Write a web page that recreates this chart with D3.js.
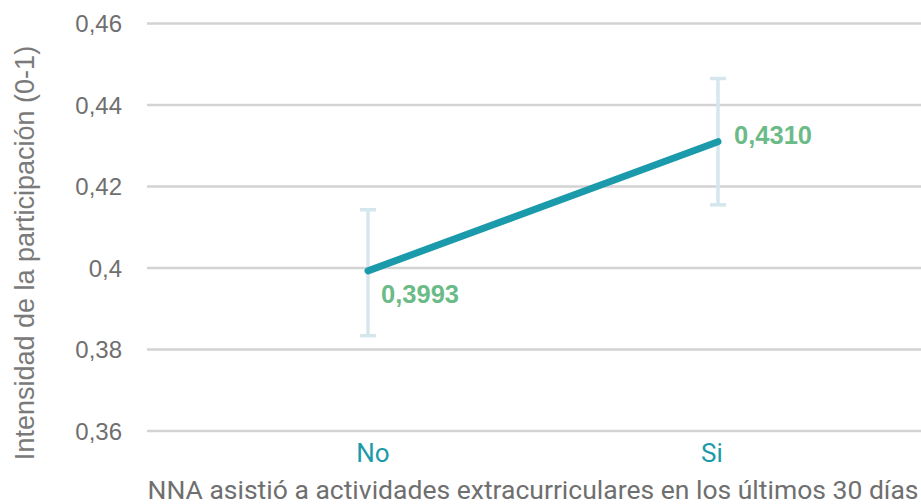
<!DOCTYPE html>
<html>
<head>
<meta charset="utf-8">
<script src="https://cdn.jsdelivr.net/npm/d3@7"></script>
<style>
  html, body { margin: 0; padding: 0; background: #fff; }
  svg text { font-family: "Liberation Sans", Arial, sans-serif; }
  svg text.roboto { font-family: Roboto, "Liberation Sans", sans-serif; }
</style>
</head>
<body>
<svg id="chart" width="921" height="504"></svg>
<script>
// Participation intensity by extracurricular attendance
const categories = ["No", "Si"];
const means = [0.3993, 0.4310];
const lower = [0.3834, 0.4155];
const upper = [0.4143, 0.4465];
const yTicks = [0.36, 0.38, 0.40, 0.42, 0.44, 0.46];
const valueLabels = ["0,3993", "0,4310"];
const xTitle = "NNA asistió a actividades extracurriculares en los últimos 30 días";
const yTitle = "Intensidad de la participación (0-1)";

const svg = d3.select("#chart");
const plot = { left: 147, right: 921, top: 23.5, bottom: 431 };

const x = d3.scalePoint().domain(categories).range([193, 893]).padding(0.5);
const y = d3.scaleLinear().domain([0.36, 0.46]).range([plot.bottom, plot.top]);

const fmtTick = v => d3.format("~g")(+v.toFixed(2)).replace(".", ",");

// Horizontal gridlines
svg.append("g")
  .selectAll("line")
  .data(yTicks)
  .join("line")
  .attr("x1", plot.left).attr("x2", plot.right)
  .attr("y1", d => y(d)).attr("y2", d => y(d))
  .attr("stroke", "#d3d3d3").attr("stroke-width", 2.5);

// Y tick labels
svg.append("g")
  .selectAll("text")
  .data(yTicks)
  .join("text")
  .attr("x", 122)
  .attr("y", d => y(d))
  .attr("dy", "0.36em")
  .attr("text-anchor", "end")
  .attr("font-size", 24)
  .attr("fill", "#6f6f6f")
  .text(fmtTick);

// Category labels
const catShift = [5, -6];
svg.append("g")
  .selectAll("text")
  .data(categories)
  .join("text")
  .attr("class", "roboto")
  .attr("x", (d, i) => x(d) + catShift[i])
  .attr("y", 462)
  .attr("text-anchor", "middle")
  .attr("font-size", 26)
  .attr("fill", "#1c9aaa")
  .text(d => d);

// Axis titles
svg.append("text")
  .attr("class", "roboto")
  .attr("x", 533).attr("y", 499)
  .attr("text-anchor", "middle")
  .attr("font-size", 26.5)
  .attr("fill", "#6f6f6f")
  .text(xTitle);

svg.append("text")
  .attr("transform", "translate(34,253) rotate(-90)")
  .attr("text-anchor", "middle")
  .attr("font-size", 27)
  .attr("fill", "#7a7a7a")
  .text(yTitle);

// Error bars
const eb = svg.append("g").attr("stroke", "#d5e6ed").attr("stroke-width", 3.5);
categories.forEach((c, i) => {
  const cx = x(c);
  eb.append("line").attr("x1", cx).attr("x2", cx).attr("y1", y(upper[i])).attr("y2", y(lower[i]));
  eb.append("line").attr("x1", cx - 8).attr("x2", cx + 8).attr("y1", y(upper[i])).attr("y2", y(upper[i]));
  eb.append("line").attr("x1", cx - 8).attr("x2", cx + 8).attr("y1", y(lower[i])).attr("y2", y(lower[i]));
});

// Mean line
const line = d3.line().x((d, i) => x(categories[i])).y(d => y(d));
svg.append("path")
  .datum(means)
  .attr("d", line)
  .attr("fill", "none")
  .attr("stroke", "#1a9aab")
  .attr("stroke-width", 7)
  .attr("stroke-linecap", "round");

// Value labels
const labelOffsets = [[13, 32], [16, 2.5]];
svg.append("g")
  .selectAll("text")
  .data(means)
  .join("text")
  .attr("x", (d, i) => x(categories[i]) + labelOffsets[i][0])
  .attr("y", (d, i) => y(d) + labelOffsets[i][1])
  .attr("font-size", 25.5)
  .attr("font-weight", "bold")
  .attr("fill", "#6bbb88")
  .text((d, i) => valueLabels[i]);
</script>
</body>
</html>
